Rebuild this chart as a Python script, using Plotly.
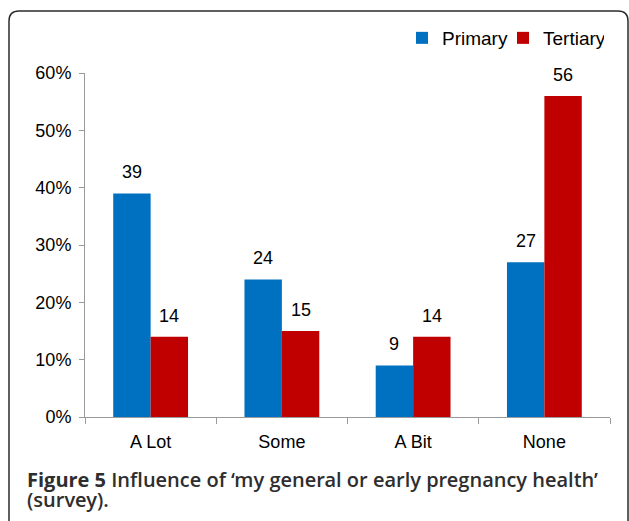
import plotly.graph_objects as go

categories = ["A Lot", "Some", "A Bit", "None"]
primary = [39, 24, 9, 27]
tertiary = [14, 15, 14, 56]
series_names = ["Primary", "Tertiary"]
y_ticks = [0, 10, 20, 30, 40, 50, 60]
caption_bold = "Figure 5"
caption_rest = " Influence of \u2018my general or early pregnancy health\u2019"
caption_line2 = "(survey)."

W, H = 629, 521
L, R, T, B = 85, 19, 73, 104
PW, PH = W - L - R, H - T - B

def px(x):
    return (x - L) / PW

def py(y):
    return (H - B - y) / PH

font_chart = "Liberation Sans, Arial, sans-serif"
font_cap = "Open Sans SemiBold, Open Sans Semibold, Noto Sans SemiBold, Open Sans, sans-serif"
blue = "#0070C0"
red = "#C00000"
axis_col = "#9a9a9a"
BARGAP = 0.43
bar_px = PW / len(categories) * (1 - BARGAP) / 2

fig = go.Figure()
annotations = []
series = [(series_names[0], primary, blue, -1), (series_names[1], tertiary, red, 1)]
for name, vals, col, side in series:
    fig.add_trace(go.Bar(
        x=categories, y=vals, name=name, marker=dict(color=col, line=dict(width=0)),
        hoverinfo="skip",
    ))
    for c, v in zip(categories, vals):
        annotations.append(dict(
            x=c, y=v, xref="x", yref="y", text=str(v), showarrow=False,
            xanchor="center", yanchor="bottom", xshift=side * bar_px / 2, yshift=9,
            font=dict(family=font_chart, size=18, color="#000000")))

border = (f"M {px(9)},{py(530)} L {px(9)},{py(21)} Q {px(9)},{py(11)} {px(19)},{py(11)} "
          f"L {px(618)},{py(11)} Q {px(628)},{py(11)} {px(628)},{py(21)} L {px(628)},{py(530)}")

CAP = "font-size:20px"
bold_span = f"<span style=\"font-family:'Open Sans';font-weight:bold;{CAP}\">{caption_bold}</span>"
cap_text = (f"{bold_span}<span style=\"{CAP}\">{caption_rest}</span><br>"
            f"<span style=\"{CAP}\">{caption_line2}</span>")
annotations.append(
    dict(xref="paper", yref="paper", x=px(25), y=py(489), xanchor="left", yanchor="middle",
         showarrow=False, align="left", text=cap_text,
         font=dict(family=font_cap, size=15.4, color="#2e2e2e", weight=600)))

fig.update_layout(
    width=W, height=H,
    margin=dict(l=L, r=R, t=T, b=B),
    paper_bgcolor="white", plot_bgcolor="white",
    barmode="group", bargap=BARGAP, bargroupgap=0,
    font=dict(family=font_chart, size=18, color="#000000"),
    showlegend=True,
    legend=dict(orientation="h", x=px(604), xanchor="right", y=py(38), yanchor="middle",
                font=dict(family=font_chart, size=19, color="#000000"),
                itemwidth=30, entrywidth=56, entrywidthmode="pixels",
                bgcolor="rgba(0,0,0,0)", traceorder="normal"),
    xaxis=dict(showgrid=False, showline=True, linecolor=axis_col, linewidth=1,
               ticks="outside", tickson="boundaries", ticklen=6, tickcolor=axis_col,
               ticklabelstandoff=8,
               tickfont=dict(family=font_chart, size=18, color="#000000")),
    yaxis=dict(range=[0, 60], tickvals=y_ticks, ticktext=[f"{v}%" for v in y_ticks],
               showgrid=False, zeroline=False, showline=True, linecolor=axis_col, linewidth=1,
               ticks="outside", ticklen=5, tickcolor=axis_col, ticklabelstandoff=4,
               tickfont=dict(family=font_chart, size=18, color="#000000")),
    shapes=[dict(type="path", xref="paper", yref="paper", path=border,
                 line=dict(color="#2b2b2b", width=1.5), layer="above")],
    annotations=annotations,
)

fig.write_html("out.html", config={"displayModeBar": False},
               post_script="document.body.style.margin='0px';document.body.style.overflow='hidden';")
